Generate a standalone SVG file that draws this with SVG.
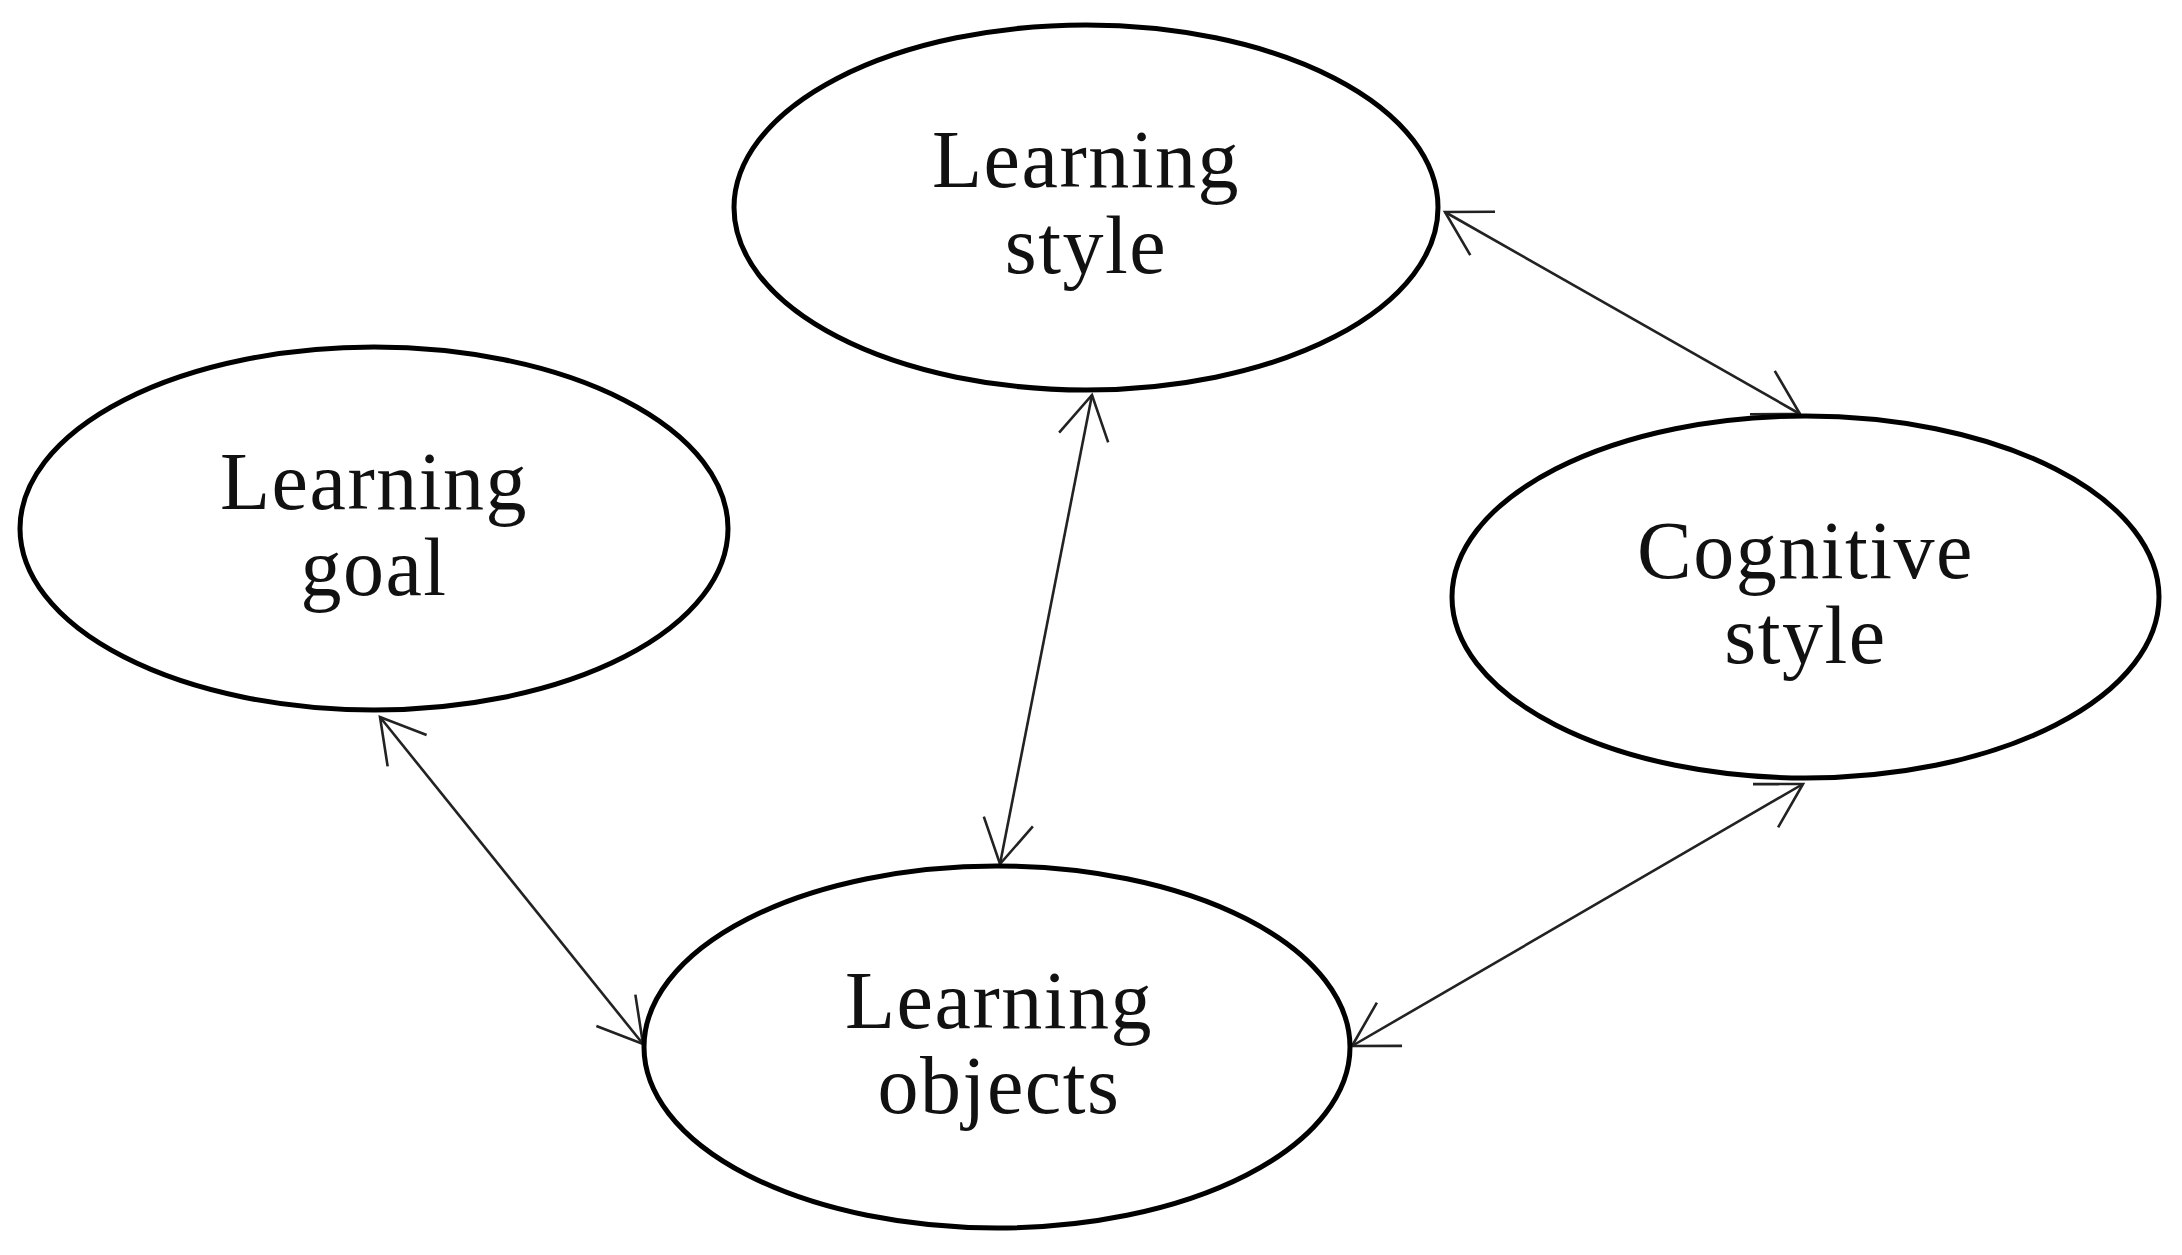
<svg xmlns="http://www.w3.org/2000/svg" width="2182" height="1255" viewBox="0 0 2182 1255">
<style>
.node ellipse{fill:#fff;stroke:#000;stroke-width:5}
.node text{font-family:"Liberation Serif","DejaVu Serif",serif;font-size:82px;letter-spacing:1.5px;fill:#111;text-anchor:middle}
.conn line{stroke:#222;stroke-width:2.6;marker-start:url(#arr);marker-end:url(#arr)}
</style>
<defs>
<marker id="arr" viewBox="-55 -30 60 60" refX="0" refY="0" markerWidth="60" markerHeight="60" markerUnits="userSpaceOnUse" orient="auto-start-reverse">
<path d="M-43.3,-25 L0,0 L-43.3,25" fill="none" stroke="#222" stroke-width="2.6"/>
</marker>
</defs>
<rect width="2182" height="1255" fill="#fff"/>
<g class="conn" id="connectors">
<line x1="1445" y1="212" x2="1800" y2="414"/>
<line x1="1092" y1="395" x2="1000" y2="864"/>
<line x1="380" y1="717" x2="643" y2="1044"/>
<line x1="1803" y1="784" x2="1352" y2="1046"/>
</g>
<g class="node" id="learning-style">
<ellipse cx="1086" cy="207.5" rx="352" ry="182.5"/>
<text x="1086" y="187">Learning</text>
<text x="1086" y="273">style</text>
</g>
<g class="node" id="learning-goal">
<ellipse cx="374" cy="528.5" rx="354" ry="181.5"/>
<text x="374" y="509">Learning</text>
<text x="374" y="595">goal</text>
</g>
<g class="node" id="cognitive-style">
<ellipse cx="1805.5" cy="597" rx="353.5" ry="181"/>
<text x="1805.5" y="578">Cognitive</text>
<text x="1805.5" y="663">style</text>
</g>
<g class="node" id="learning-objects">
<ellipse cx="997" cy="1047" rx="353" ry="181"/>
<text x="999" y="1028">Learning</text>
<text x="999" y="1113">objects</text>
</g>
</svg>
